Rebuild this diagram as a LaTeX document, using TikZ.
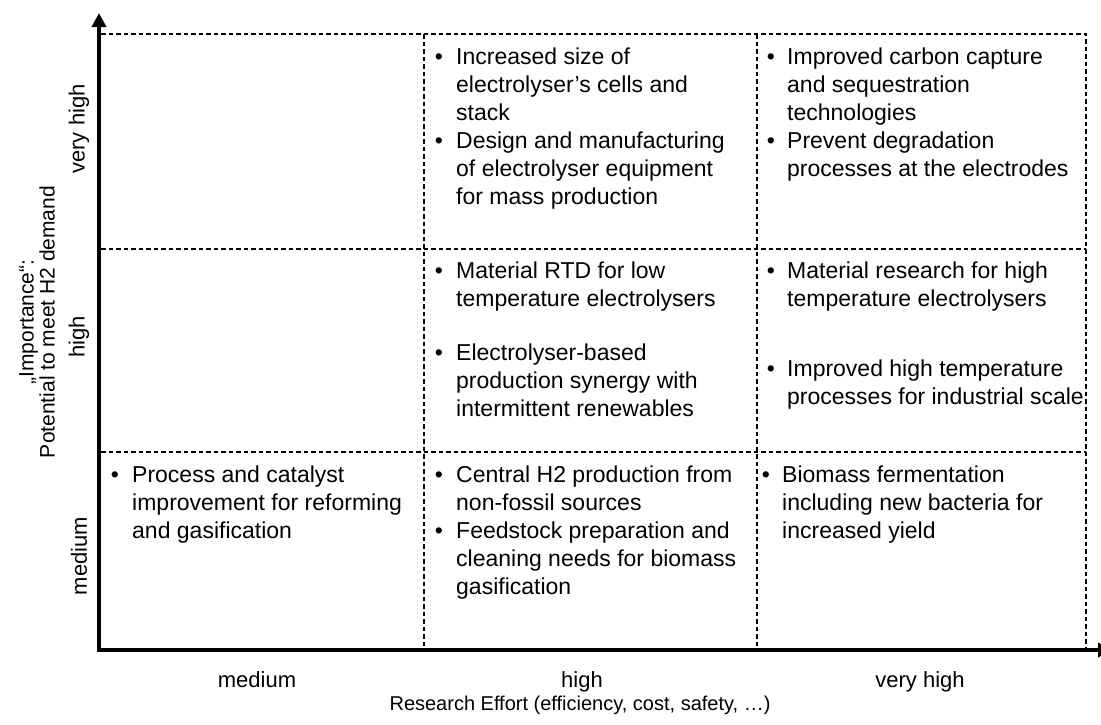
\documentclass[tikz,border=0pt]{standalone}
\usepackage{fontspec}
\setmainfont{Liberation Sans}
\usetikzlibrary{arrows.meta}
\newcommand\celllines[1]{\parbox[t]{330pt}{\raggedright #1}}
\begin{document}
\begin{tikzpicture}[x=1pt,y=-1pt,
  gridline/.style={line width=1.8pt, dash pattern=on 4.5pt off 3pt},
  axisline/.style={line width=4pt, -{Triangle[length=14pt,width=14pt]}},
  celltext/.style={anchor=base west, inner sep=0pt, font=\fontsize{23}{28}\selectfont},
  bulletmark/.style={anchor=base, inner sep=0pt, font=\fontsize{23}{28}\selectfont},
  levellabel/.style={inner sep=0pt, font=\fontsize{22}{26}\selectfont},
  axistitle/.style={inner sep=0pt, align=center, font=\fontsize{20}{21}\selectfont}]
\useasboundingbox (0,0) rectangle (1101,724);
% grid corners
\coordinate (g00) at (101,34);
\coordinate (g10) at (424,34);
\coordinate (g20) at (757,34);
\coordinate (g30) at (1086,34);
\coordinate (l1) at (101,249);
\coordinate (r1) at (1086,249);
\coordinate (l2) at (101,452);
\coordinate (r2) at (1086,452);
\coordinate (g13) at (424,650);
\coordinate (g23) at (757,650);
\coordinate (g33) at (1086,650);
% grid
\draw[gridline] (g00) -- (g30) -- (g33);
\draw[gridline] (l1) -- (r1);
\draw[gridline] (l2) -- (r2);
\draw[gridline] (g10) -- (g13);
\draw[gridline] (g20) -- (g23);
% axes
\coordinate (ystart) at (99,652);
\coordinate (xstart) at (97,650);
\coordinate (ytip) at (99,13);
\coordinate (xtip) at (1112,650);
\draw[axisline] (ystart) -- (ytip);
\draw[axisline] (xstart) -- (xtip);
% top-middle
\node[bulletmark] (b1) at (439,64) {•};
\node[celltext] (t1) at (456,64) {\celllines{Increased size of\\electrolyser’s cells and\\stack}};
\node[bulletmark] (b2) at (439,148) {•};
\node[celltext] (t2) at (456,148) {\celllines{Design and manufacturing\\of electrolyser equipment\\for mass production}};
% top-right
\node[bulletmark] (b3) at (771,64) {•};
\node[celltext] (t3) at (787,64) {\celllines{Improved carbon capture\\and sequestration\\technologies}};
\node[bulletmark] (b4) at (771,148) {•};
\node[celltext] (t4) at (787,148) {\celllines{Prevent degradation\\processes at the electrodes}};
% middle-middle
\node[bulletmark] (b5) at (439,278) {•};
\node[celltext] (t5) at (456,278) {\celllines{Material RTD for low\\temperature electrolysers}};
\node[bulletmark] (b6) at (439,360) {•};
\node[celltext] (t6) at (456,360) {\celllines{Electrolyser-based\\production synergy with\\intermittent renewables}};
% middle-right
\node[bulletmark] (b7) at (771,278) {•};
\node[celltext] (t7) at (787,278) {\celllines{Material research for high\\temperature electrolysers}};
\node[bulletmark] (b8) at (771,376) {•};
\node[celltext] (t8) at (787,376) {\celllines{Improved high temperature\\processes for industrial scale}};
% bottom-left
\node[bulletmark] (b9) at (115,482) {•};
\node[celltext] (t9) at (132,482) {\celllines{Process and catalyst\\improvement for reforming\\and gasification}};
% bottom-middle
\node[bulletmark] (b10) at (439,482) {•};
\node[celltext] (t10) at (456,482) {\celllines{Central H2 production from\\non-fossil sources}};
\node[bulletmark] (b11) at (439,538) {•};
\node[celltext] (t11) at (456,538) {\celllines{Feedstock preparation and\\cleaning needs for biomass\\gasification}};
% bottom-right
\node[bulletmark] (b12) at (766,482) {•};
\node[celltext] (t12) at (782,482) {\celllines{Biomass fermentation\\including new bacteria for\\increased yield}};
% x-axis labels
\node[levellabel, anchor=base] (xm) at (257,687) {medium};
\node[levellabel, anchor=base] (xh) at (582,687) {high};
\node[levellabel, anchor=base] (xv) at (920,687) {very high};
\node[axistitle, anchor=base] (xt) at (580,710) {Research Effort (efficiency, cost, safety, …)};
% y-axis labels
\node[levellabel, rotate=90] (yv) at (79,129) {very high};
\node[levellabel, rotate=90] (yh) at (79,337) {high};
\node[levellabel, rotate=90] (ym) at (79,556) {medium};
\node[axistitle, rotate=90, font=\fontsize{21}{21}\selectfont] (yt) at (37,322) {„Importance“:\\Potential to meet H2 demand};
\end{tikzpicture}
\end{document}
